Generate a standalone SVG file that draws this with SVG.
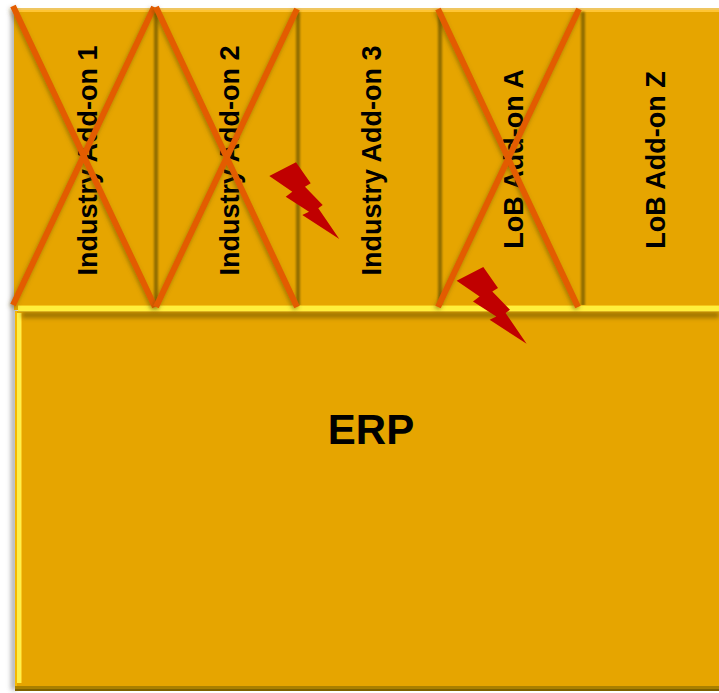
<svg xmlns="http://www.w3.org/2000/svg" width="719" height="693" viewBox="0 0 719 693">
<defs>
<style>
.lbl{font-family:"Liberation Sans",Arial,sans-serif;font-weight:700;fill:#000;text-anchor:middle}
.side{font-size:27px}
.div{stroke:#8F6C00;stroke-width:4;fill:none;filter:url(#s0)}
.x{stroke:#E35C00;stroke-width:6;fill:none;filter:url(#ls)}
.bolt{fill:#C00000}
</style>
<filter id="sh" x="-300%" y="-5%" width="700%" height="110%"><feGaussianBlur stdDeviation="2.500"/></filter>
<filter id="s1" x="-5%" y="-100%" width="110%" height="300%"><feGaussianBlur stdDeviation="2"/></filter>
<filter id="s0" x="-5%" y="-5%" width="110%" height="110%"><feGaussianBlur stdDeviation="0.800"/></filter>
<filter id="ls" x="-10%" y="-10%" width="120%" height="120%"><feDropShadow dx="-1" dy="2" stdDeviation="2" flood-color="#5a4500" flood-opacity=".5"/></filter>
<polygon id="b" class="bolt" points="269.3,176 296,162.3 310.7,183.3 305,186.7 322.7,205 318.3,208.3 339.3,239 302.3,215 309,211.7 285.7,196.7 292.3,191.700"/>
</defs>
<rect width="719" height="693" fill="#fff"/>
<rect x="11" y="12" width="6" height="678" fill="#777" opacity=".6" filter="url(#sh)"/>
<g id="addons-panel">
<rect x="14" y="8" width="705" height="302" fill="#E6A500"/>
<rect x="14" y="8" width="705" height="2" fill="#EFC660"/>
<rect x="14" y="10" width="705" height="2" fill="#FFC533"/>
</g>
<g id="erp">
<rect x="15" y="311" width="704" height="380" fill="#E6A500"/>
<rect x="15" y="311" width="2" height="380" fill="#F5B800"/>
<rect x="17" y="313" width="4" height="370" fill="#FFF04A"/>
<rect x="21" y="313" width="1" height="370" fill="#F8C920"/>
<rect x="15" y="686" width="704" height="3" fill="#A98000"/>
<rect x="15" y="689" width="704" height="2" fill="#7F6200"/>
<rect x="22" y="312" width="697" height="6" fill="#7F6000" opacity=".7" filter="url(#s1)"/>
<text class="lbl" x="371" y="444" font-size="42">ERP</text>
</g>
<g id="dividers">
<path class="div" d="M156 12V306M298 12V306M440 12V306M583 12V306"/>
</g>
<g id="separator">
<rect x="18" y="305" width="701" height="7" fill="#FFEF3C"/>
<rect x="18" y="305" width="701" height="1" fill="#F5C518"/>
<rect x="18" y="311" width="701" height="1" fill="#D9B020"/>
</g>
<g id="addon-1"><text class="lbl side" transform="translate(97 160.500) rotate(-90)">Industry Add-on 1</text></g>
<g id="addon-2"><text class="lbl side" transform="translate(239 160.500) rotate(-90)">Industry Add-on 2</text></g>
<g id="addon-3"><text class="lbl side" transform="translate(381 160.500) rotate(-90)">Industry Add-on 3</text></g>
<g id="addon-a"><text class="lbl side" transform="translate(523 159) rotate(-90)">LoB Add-on A</text></g>
<g id="addon-z"><text class="lbl side" transform="translate(665 160) rotate(-90)">LoB Add-on Z</text></g>
<g id="connectors">
<path class="x" d="M13 6L155 307M154 7L13 305"/>
<path class="x" d="M156 7L297 307M297 9L156 307"/>
<path class="x" d="M438 9L578 307M579 9L438 307"/>
</g>
<g id="bolt-1"><use href="#b"/></g>
<g id="bolt-2"><use href="#b" transform="translate(187.300 104.700)"/></g>
</svg>
